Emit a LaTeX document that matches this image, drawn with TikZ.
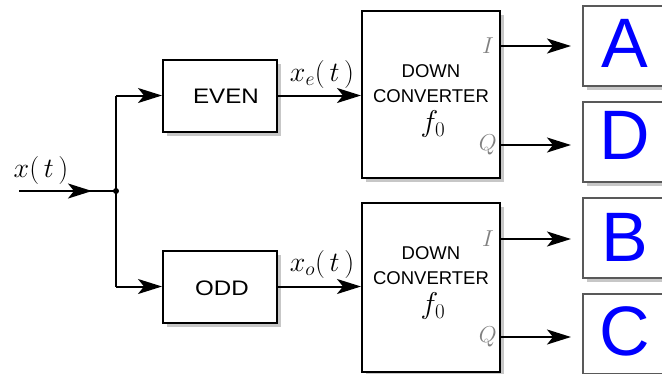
\RequirePackage{fix-cm}
\documentclass[tikz,border=0pt]{standalone}
\usepackage{fontspec}
\usepackage{graphicx}
\newfontfamily\arial{Liberation Sans}
\usetikzlibrary{arrows.meta,shadows}
\begin{document}
\begin{tikzpicture}[x=1pt,y=-1pt,
  shad/.style={drop shadow={shadow xshift=4pt,shadow yshift=-4pt,fill=black!22,opacity=1}},
  blk/.style={draw=black,line width=2pt,fill=white,inner sep=0pt,shad},
  outbox/.style={draw=black!65,line width=2pt,fill=white,inner sep=0pt,shad,minimum width=84pt,minimum height=80pt},
  ln/.style={line width=2pt},
  arr/.style={line width=2pt,-{Stealth[length=24pt,width=15pt,inset=6pt]}},
  sig/.style={inner sep=0pt,font=\fontsize{28}{28}\selectfont},
  iq/.style={inner sep=0pt,text=black!50,font=\fontsize{23}{23}\selectfont,anchor=east},
  dc/.style={inner sep=0pt,font=\arial\fontsize{18.5}{18.5}\selectfont},
  ff/.style={inner sep=0pt,font=\fontsize{30}{30}\selectfont},
  big/.style={inner sep=0pt,text=blue,font=\arial\fontsize{70}{70}\selectfont},
  lab/.style={inner sep=0pt,font=\arial\fontsize{21}{21}\selectfont}
]
\useasboundingbox (0,0) rectangle (662,373);
\clip (0,0) rectangle (662,373);

% blocks
\node[blk,minimum width=114pt,minimum height=72pt] (even) at (220,95.5) {};
\node[blk,minimum width=114pt,minimum height=72pt] (odd) at (220,286.5) {};
\node[lab] (evenl) at (226,96) {\scalebox{1.15}[1]{EVEN}};
\node[lab] (oddl) at (222,288) {\scalebox{1.15}[1]{ODD}};
\node[blk,minimum width=138pt,minimum height=167pt] (c1) at (431,94.5) {};
\node[blk,minimum width=138pt,minimum height=169pt] (c2) at (431,287.5) {};

\node[dc] (c1a) at (431,71.5) {DOWN};
\node[dc] (c1b) at (431,96.5) {CONVERTER};
\node[ff] (c1f) at (433,124) {$f_0$};
\node[dc] (c2a) at (431,253) {DOWN};
\node[dc] (c2b) at (431,278) {CONVERTER};
\node[ff] (c2f) at (433,306) {$f_0$};

\node[iq] (c1i) at (494,46) {$I$};
\node[iq] (c1q) at (497,145) {$Q$};
\node[iq] (c2i) at (494,239) {$I$};
\node[iq] (c2q) at (497,337) {$Q$};

% output boxes
\node[outbox] (A) at (625,46) {};
\node[outbox] (D) at (625,142) {};
\node[outbox] (B) at (625,238) {};
\node[outbox] (C) at (625,334) {};
\node[big] (Al) at (625,43) {A};
\node[big] (Dl) at (625,135) {D};
\node[big] (Bl) at (625,237) {B};
\node[big] (Cl) at (625,331) {C};

% input
\coordinate (in) at (19,191);
\coordinate (inTip) at (92,191);
\coordinate (j) at (116,191);
\draw[ln] (in) -- (j);
\draw[arr] (in) -- (inTip);
\fill (j) circle (3pt);
\node[sig] (xl) at (41,170) {$x(\,t\,)$};

% branches
\draw[ln] (j |- even.west) -- (j |- odd.west);
\draw[arr] (j |- even.west) -- (even.west);
\draw[arr] (j |- odd.west) -- (odd.west);

% to converters
\draw[arr] (even.east) -- (even.east -| c1.west);
\draw[arr] (odd.east) -- (odd.east -| c2.west);
\node[sig] (xe) at (322,74) {$x_e(\,t\,)$};
\node[sig] (xo) at (322,264) {$x_o(\,t\,)$};

% outputs
\draw[arr,shorten >=11pt] (c1.east |- c1i) -- (A.west |- c1i);
\draw[arr,shorten >=11pt] (c1.east |- c1q) -- (D.west |- c1q);
\draw[arr,shorten >=11pt] (c2.east |- c2i) -- (B.west |- c2i);
\draw[arr,shorten >=11pt] (c2.east |- c2q) -- (C.west |- c2q);
\end{tikzpicture}
\end{document}
